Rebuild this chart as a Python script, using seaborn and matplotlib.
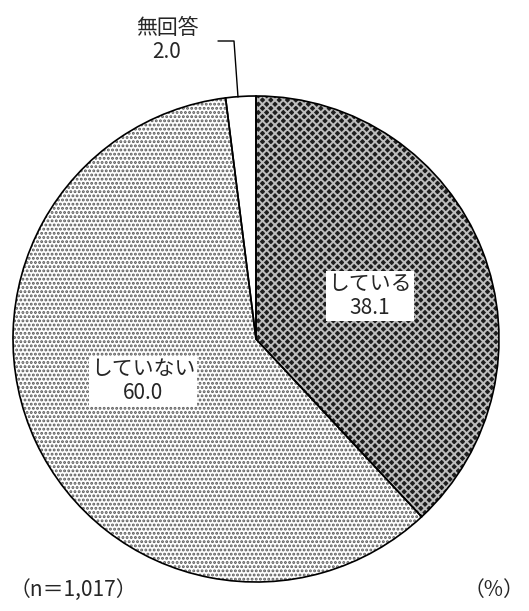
import matplotlib
matplotlib.use("Agg")
import matplotlib.pyplot as plt
import seaborn as sns

# データ
labels = ["している", "していない", "無回答"]
values = [38.1, 60.0, 2.0]
face_colors = ["#1e1e1e", "#ffffff", "#ffffff"]
hatch_colors = ["#bdbdbd", "#5a5a5a", "#ffffff"]
hatches = ["xxxx", "....", ""]

sns.set_theme(style="white")
plt.rcParams["font.family"] = ["Noto Sans CJK JP", "DejaVu Sans"]
plt.rcParams["hatch.linewidth"] = 1.4

W, H = 529, 611
fig = plt.figure(figsize=(W / 100, H / 100), dpi=100)
cx, cy, r = 256, 339, 243
ax = fig.add_axes([(cx - r) / W, (H - cy - r) / H, 2 * r / W, 2 * r / H])

# 塗り(ハッチ)
wedges, _ = ax.pie(values, startangle=90, counterclock=False, colors=face_colors,
                   radius=1.0, wedgeprops=dict(linewidth=0))
for w, h, hc in zip(wedges, hatches, hatch_colors):
    w.set_hatch(h)
    w.set_edgecolor(hc)
    w.set_linewidth(0)

# 輪郭
ax.pie(values, startangle=90, counterclock=False, radius=1.0,
       wedgeprops=dict(facecolor="none", edgecolor="black", linewidth=1.2))
ax.set_xlim(-1, 1)
ax.set_ylim(-1, 1)
ax.set_aspect("equal")
ax.axis("off")

fs = 15
box = dict(facecolor="white", edgecolor="none", pad=1.5)
fig.text(370 / W, 1 - 296 / H, f"{labels[0]}\n{values[0]:.1f}", ha="center", va="center",
         fontsize=fs, linespacing=1.15, bbox=box)
fig.text(143 / W, 1 - 381 / H, f"{labels[1]}\n{values[1]:.1f}", ha="center", va="center",
         fontsize=fs, linespacing=1.15, bbox=box)
fig.text(167 / W, 1 - 40 / H, f"{labels[2]}\n{values[2]:.1f}", ha="center", va="center",
         fontsize=fs, linespacing=1.15)

# 引き出し線
fig.add_artist(plt.Line2D([218 / W, 234 / W, 238 / W],
                          [1 - 41 / H, 1 - 41 / H, 1 - 97 / H],
                          color="black", linewidth=1.0))

fig.text(10 / W, 1 - 590 / H, "（n＝1,017）", ha="left", va="center", fontsize=fs)
fig.text(524 / W, 1 - 590 / H, "（%）", ha="right", va="center", fontsize=fs)

fig.savefig("out.png", dpi=100)
